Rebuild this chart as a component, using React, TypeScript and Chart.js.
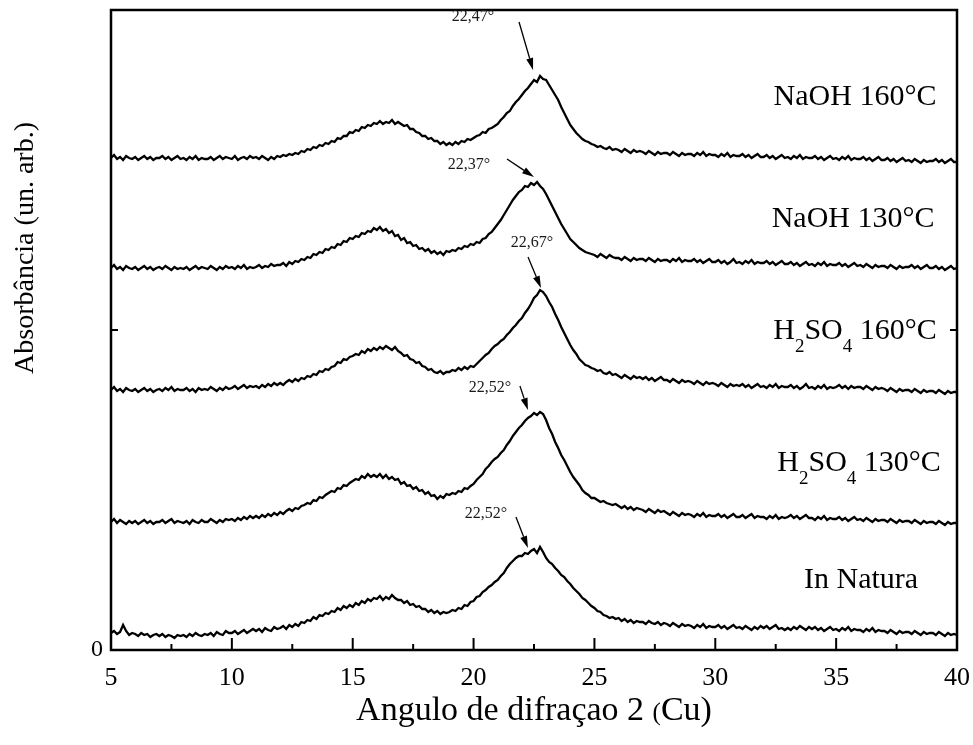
import React, { useEffect, useRef } from 'react';
import { Chart, registerables } from 'chart.js';

Chart.register(...registerables);

const FONT = '"Liberation Serif", "Times New Roman", serif';

// Measurement grid (2θ, degrees)
const SCAN_START = 5;
const SCAN_STEP = 0.125;
const SCAN_POINTS = 281;
const ANGLES = Array.from({ length: SCAN_POINTS }, (_, i) => SCAN_START + i * SCAN_STEP);

// Axis
const X_MIN = 5;
const X_MAX = 40;
const X_MAJOR = 5;
const X_MINOR = 2.5;
const X_TICK_LABELS = ['5', '10', '15', '20', '25', '30', '35', '40'];
const Y_MIN = 0;
const Y_MAX = 640;
const Y_STEP = 320;
const Y_TICK_LABELS = ['0'];

// Series names (bottom to top)
const SERIES_NAMES = ['In Natura', 'H2SO4 130°C', 'H2SO4 160°C', 'NaOH 130°C', 'NaOH 160°C'];

// Stacked diffractograms (arbitrary units), one row per degree, 8 samples per degree
const IN_NATURA = [
  17, 19, 16, 18, 25, 19, 15, 17,
  16, 14, 17, 15, 16, 13, 15, 16,
  14, 16, 13, 15, 14, 12, 15, 14,
  15, 13, 16, 14, 17, 15, 14, 16,
  15, 17, 14, 18, 16, 15, 19, 17,
  17, 19, 16, 18, 20, 17, 19, 21,
  19, 21, 18, 22, 20, 19, 23, 21,
  22, 24, 21, 25, 23, 26, 24, 28,
  27, 30, 29, 33, 31, 35, 34, 37,
  36, 39, 38, 42, 40, 44, 42, 45,
  43, 47, 45, 49, 47, 51, 49, 52,
  51, 54, 50, 53, 51, 55, 52, 50,
  50, 47, 49, 45, 46, 43, 44, 41,
  41, 38, 40, 37, 39, 36, 38, 37,
  38, 40, 39, 42, 41, 45, 44, 48,
  49, 53, 54, 58, 60, 63, 65, 68,
  70, 74, 77, 82, 86, 89, 92, 94,
  94, 97, 96, 99, 101, 97, 103, 98,
  92, 88, 86, 82, 79, 75, 73, 69,
  66, 62, 59, 56, 52, 50, 47, 44,
  42, 39, 38, 35, 34, 32, 33, 31,
  32, 29, 31, 28, 30, 27, 29, 28,
  28, 26, 29, 27, 26, 28, 25, 27,
  26, 24, 27, 25, 23, 26, 24, 25,
  24, 22, 25, 23, 26, 22, 24, 23,
  23, 25, 22, 24, 21, 23, 25, 22,
  23, 21, 24, 22, 20, 23, 21, 24,
  22, 24, 21, 23, 25, 21, 22, 20,
  22, 20, 23, 21, 24, 22, 20, 23,
  21, 23, 20, 22, 19, 21, 23, 20,
  21, 19, 22, 20, 23, 19, 21, 20,
  20, 18, 21, 19, 22, 18, 20, 19,
  19, 17, 20, 18, 16, 19, 17, 18,
  18, 16, 19, 17, 15, 18, 16, 17,
  17, 15, 18, 16, 14, 17, 15, 16,
  15,
];

const H2SO4_130 = [
  128, 131, 127, 130, 128, 126, 129, 127,
  129, 126, 128, 130, 127, 129, 126, 128,
  128, 130, 127, 129, 131, 127, 129, 128,
  127, 129, 126, 130, 128, 127, 130, 128,
  128, 131, 129, 127, 130, 128, 131, 130,
  131, 129, 132, 130, 133, 131, 134, 132,
  134, 132, 135, 133, 136, 134, 137, 135,
  138, 136, 139, 141, 139, 142, 141, 144,
  145, 147, 146, 150, 149, 153, 152, 155,
  157, 159, 158, 162, 161, 165, 164, 167,
  169, 171, 170, 174, 172, 176, 173, 175,
  173, 176, 172, 175, 171, 173, 170, 171,
  166, 168, 164, 165, 161, 163, 159, 160,
  156, 158, 154, 155, 151, 154, 152, 156,
  155, 157, 156, 159, 158, 162, 161, 164,
  166, 170, 173, 176, 181, 184, 188, 191,
  193, 197, 200, 205, 209, 214, 218, 222,
  225, 229, 232, 234, 237, 235, 238, 236,
  230, 222, 216, 208, 202, 195, 190, 184,
  178, 173, 169, 165, 160, 157, 155, 152,
  152, 150, 148, 149, 147, 146, 145, 146,
  144, 142, 144, 141, 143, 140, 142, 141,
  140, 138, 141, 139, 137, 140, 138, 139,
  137, 135, 138, 136, 134, 137, 135, 136,
  135, 133, 136, 134, 137, 133, 135, 134,
  134, 136, 133, 135, 132, 134, 136, 133,
  133, 135, 132, 134, 136, 132, 134, 133,
  133, 131, 134, 132, 135, 131, 133, 132,
  133, 135, 132, 134, 131, 133, 135, 132,
  132, 130, 133, 131, 134, 130, 132, 131,
  131, 133, 130, 132, 129, 131, 133, 130,
  131, 129, 132, 130, 128, 131, 129, 130,
  130, 128, 131, 129, 127, 130, 128, 129,
  129, 127, 130, 128, 126, 129, 127, 128,
  128, 126, 129, 127, 125, 128, 126, 127,
  127,
];

const H2SO4_160 = [
  260, 263, 259, 261, 258, 262, 260, 259,
  261, 258, 260, 262, 259, 261, 258, 260,
  261, 259, 262, 260, 263, 259, 261, 260,
  260, 262, 259, 261, 258, 262, 260, 261,
  260, 263, 261, 259, 262, 260, 263, 261,
  262, 264, 261, 263, 265, 262, 264, 263,
  264, 262, 265, 263, 266, 264, 267, 265,
  267, 265, 268, 270, 268, 271, 269, 272,
  271, 274, 273, 276, 275, 279, 278, 281,
  280, 283, 284, 288, 287, 291, 290, 293,
  294, 296, 295, 299, 297, 301, 299, 302,
  300, 303, 301, 304, 302, 300, 303, 299,
  297, 294, 295, 291, 290, 287, 288, 284,
  283, 280, 281, 278, 277, 279, 276, 278,
  278, 280, 279, 282, 280, 283, 281, 284,
  283, 286, 289, 292, 295, 297, 301, 304,
  306, 309, 311, 315, 318, 322, 325, 329,
  332, 337, 341, 346, 352, 355, 360, 358,
  354, 348, 343, 336, 330, 323, 317, 311,
  305, 300, 296, 291, 288, 285, 284, 282,
  281, 279, 280, 277, 276, 278, 275, 276,
  274, 272, 275, 273, 271, 274, 272, 273,
  271, 273, 270, 272, 269, 271, 273, 270,
  270, 268, 271, 269, 267, 270, 268, 269,
  268, 266, 269, 267, 265, 268, 266, 267,
  266, 264, 267, 265, 263, 266, 264, 265,
  264, 266, 263, 265, 262, 264, 266, 263,
  264, 262, 265, 263, 266, 262, 264, 263,
  263, 265, 262, 264, 261, 263, 266, 262,
  263, 261, 264, 262, 265, 261, 263, 262,
  263, 265, 262, 264, 261, 264, 262, 263,
  263, 261, 264, 262, 260, 263, 261, 262,
  261, 259, 262, 260, 258, 261, 259, 260,
  260, 258, 261, 259, 257, 260, 258, 259,
  259, 257, 260, 258, 256, 259, 257, 258,
  258,
];

const NAOH_130 = [
  382, 385, 381, 383, 380, 384, 382, 381,
  383, 380, 382, 384, 381, 383, 380, 382,
  383, 381, 384, 382, 380, 383, 381, 382,
  381, 383, 380, 382, 384, 381, 383, 382,
  381, 384, 382, 380, 383, 381, 384, 382,
  383, 381, 384, 382, 385, 381, 383, 382,
  383, 385, 382, 384, 383, 386, 384, 385,
  385, 387, 384, 388, 386, 389, 388, 391,
  390, 393, 392, 396, 395, 398, 397, 401,
  400, 403, 402, 406, 405, 409, 408, 412,
  411, 414, 413, 417, 416, 419, 418, 422,
  420, 423, 419, 421, 417, 419, 414, 415,
  410, 412, 407, 408, 404, 405, 401, 402,
  399, 401, 397, 399, 396, 398, 395, 399,
  398, 400, 399, 402, 401, 404, 403, 406,
  405, 408, 407, 411, 412, 416, 418, 422,
  426, 430, 435, 440, 445, 450, 454, 458,
  460, 464, 463, 467, 465, 468, 464, 461,
  456, 450, 444, 438, 432, 426, 421, 416,
  411, 408, 405, 402, 400, 398, 397, 396,
  395, 393, 396, 394, 392, 395, 393, 392,
  392, 390, 393, 391, 389, 392, 390, 391,
  391, 389, 392, 390, 388, 391, 389, 390,
  390, 388, 391, 389, 392, 388, 390, 389,
  389, 391, 388, 390, 387, 389, 391, 388,
  388, 390, 387, 389, 386, 388, 391, 387,
  388, 386, 389, 387, 390, 386, 388, 387,
  387, 389, 386, 388, 385, 387, 389, 386,
  386, 388, 385, 387, 384, 386, 388, 385,
  386, 384, 387, 385, 388, 384, 386, 385,
  385, 387, 384, 386, 383, 385, 387, 384,
  385, 383, 386, 384, 382, 385, 383, 384,
  384, 382, 385, 383, 381, 384, 382, 383,
  383, 385, 382, 384, 381, 383, 385, 382,
  382, 384, 381, 383, 380, 382, 384, 381,
  382,
];

const NAOH_160 = [
  492, 495, 491, 493, 490, 494, 492, 491,
  493, 490, 492, 494, 491, 493, 490, 492,
  492, 494, 491, 493, 490, 492, 494, 491,
  492, 490, 493, 491, 494, 490, 492, 491,
  491, 493, 490, 492, 494, 491, 493, 492,
  491, 494, 490, 492, 493, 491, 494, 492,
  493, 491, 494, 492, 490, 493, 491, 494,
  493, 495, 494, 496, 495, 497, 496, 499,
  498, 501, 500, 503, 502, 505, 504, 507,
  506, 509, 508, 512, 511, 514, 514, 518,
  517, 520, 519, 523, 522, 525, 524, 527,
  526, 529, 526, 528, 527, 530, 526, 528,
  526, 524, 525, 521, 521, 518, 517, 514,
  514, 511, 512, 509, 509, 506, 508, 505,
  507, 505, 508, 506, 509, 508, 511, 510,
  512, 514, 515, 518, 517, 521, 522, 524,
  526, 530, 533, 537, 539, 544, 548, 551,
  555, 559, 562, 566, 570, 568, 574, 571,
  570, 565, 560, 555, 550, 543, 537, 531,
  525, 521, 517, 514, 511, 509, 508, 506,
  505, 503, 504, 502, 501, 503, 500, 501,
  500, 498, 501, 499, 497, 500, 498, 499,
  498, 496, 499, 497, 495, 498, 496, 497,
  497, 495, 498, 496, 494, 497, 495, 496,
  496, 494, 497, 495, 498, 494, 496, 495,
  495, 493, 496, 494, 497, 493, 495, 494,
  494, 496, 493, 495, 492, 494, 496, 493,
  493, 495, 492, 494, 491, 493, 495, 492,
  493, 491, 494, 492, 495, 491, 493, 492,
  492, 494, 491, 493, 490, 492, 494, 491,
  492, 490, 493, 491, 494, 490, 492, 491,
  491, 493, 490, 492, 489, 491, 493, 490,
  490, 492, 489, 491, 488, 490, 492, 489,
  490, 488, 491, 489, 487, 490, 488, 489,
  489, 491, 488, 490, 487, 489, 491, 488,
  488,
];

// Peak annotations (bottom to top)
const PEAK_LABELS = ['22,52°', '22,52°', '22,67°', '22,37°', '22,47°'];
const ARROW_TIP_ANGLE = [22.25, 22.25, 22.79, 22.5, 22.46];
const ARROW_TIP_VALUE = [102, 240, 362, 473, 580];

// Placement styles (pixels relative to arrow tip)
const PEAK_TEXT_OFFSET = [[-42, -34], [-38, -22], [-9, -45], [-65, -12], [-60, -53]];
const ARROW_START_OFFSET = [[-12, -31], [-8, -24], [-13, -31], [-27, -18], [-14, -48]];

// Series label anchors (centre angle, cap-centre value)
const LABEL_ANGLE = [36.03, 35.95, 35.78, 35.70, 35.78];
const LABEL_VALUE = [72, 189, 321, 433, 555];

const SERIES = [
  { name: SERIES_NAMES[0], values: IN_NATURA },
  { name: SERIES_NAMES[1], values: H2SO4_130 },
  { name: SERIES_NAMES[2], values: H2SO4_160 },
  { name: SERIES_NAMES[3], values: NAOH_130 },
  { name: SERIES_NAMES[4], values: NAOH_160 },
];

function chemSegments(text: string) {
  const first = text.split(' ')[0];
  const rest = text.slice(first.length);
  const segs: { t: string; sub: boolean }[] = [];
  const isFormula = /[A-Za-z]/.test(first) && /\d/.test(first);
  if (isFormula) {
    for (const ch of first) {
      const sub = /\d/.test(ch);
      const last = segs[segs.length - 1];
      if (last && last.sub === sub) last.t += ch;
      else segs.push({ t: ch, sub });
    }
  } else {
    segs.push({ t: first, sub: false });
  }
  if (rest) segs.push({ t: rest, sub: false });
  return segs;
}

const decor = {
  id: 'decor',
  afterDraw(chart: any) {
    const { ctx, chartArea: a } = chart;
    const xs = chart.scales.x;
    const ys = chart.scales.y;
    ctx.save();

    // frame
    ctx.strokeStyle = '#000';
    ctx.lineWidth = 2.5;
    ctx.strokeRect(a.left, a.top, a.right - a.left, a.bottom - a.top);

    // inward x ticks
    ctx.lineWidth = 2;
    for (let v = X_MIN; v <= X_MAX + 1e-9; v += X_MINOR) {
      const px = xs.getPixelForValue(v);
      const r = (v - X_MIN) / X_MAJOR;
      const major = Math.abs(r - Math.round(r)) < 1e-6;
      const len = major ? 12 : 6;
      ctx.beginPath();
      ctx.moveTo(px, a.bottom);
      ctx.lineTo(px, a.bottom - len);
      ctx.stroke();
    }
    // inward y ticks (left & right)
    for (let v = Y_MIN + Y_STEP; v < Y_MAX; v += Y_STEP) {
      const py = ys.getPixelForValue(v);
      ctx.beginPath();
      ctx.moveTo(a.left, py);
      ctx.lineTo(a.left + 7, py);
      ctx.moveTo(a.right, py);
      ctx.lineTo(a.right - 7, py);
      ctx.stroke();
    }

    // tick labels
    ctx.fillStyle = '#000';
    ctx.font = `26px ${FONT}`;
    ctx.textAlign = 'center';
    ctx.textBaseline = 'alphabetic';
    X_TICK_LABELS.forEach((t) => {
      ctx.fillText(t, xs.getPixelForValue(Number(t)), a.bottom + 35);
    });
    ctx.font = `24px ${FONT}`;
    ctx.textAlign = 'right';
    Y_TICK_LABELS.forEach((t) => {
      ctx.fillText(t, a.left - 8, ys.getPixelForValue(Number(t)) + 6);
    });

    // series labels
    ctx.textAlign = 'left';
    SERIES.forEach((s, i) => {
      const segs = chemSegments(s.name);
      const mainFont = `30px ${FONT}`;
      const subFont = `19px ${FONT}`;
      let w = 0;
      segs.forEach((g) => {
        ctx.font = g.sub ? subFont : mainFont;
        w += ctx.measureText(g.t).width;
      });
      const cx = xs.getPixelForValue(LABEL_ANGLE[i]);
      const base = ys.getPixelForValue(LABEL_VALUE[i]) + 10;
      let x = cx - w / 2;
      segs.forEach((g) => {
        ctx.font = g.sub ? subFont : mainFont;
        ctx.fillText(g.t, x, g.sub ? base + 13 : base);
        x += ctx.measureText(g.t).width;
      });
    });

    // peak annotations
    PEAK_LABELS.forEach((lab, i) => {
      const tx = xs.getPixelForValue(ARROW_TIP_ANGLE[i]);
      const ty = ys.getPixelForValue(ARROW_TIP_VALUE[i]);
      ctx.font = `16px ${FONT}`;
      ctx.textAlign = 'center';
      ctx.textBaseline = 'middle';
      ctx.fillStyle = '#1a1a1a';
      ctx.fillText(lab, tx + PEAK_TEXT_OFFSET[i][0], ty + PEAK_TEXT_OFFSET[i][1]);
      const sx = tx + ARROW_START_OFFSET[i][0];
      const sy = ty + ARROW_START_OFFSET[i][1];
      const ang = Math.atan2(ty - sy, tx - sx);
      const hl = 12;
      const hw = 3.5;
      const bx = tx - hl * Math.cos(ang);
      const by = ty - hl * Math.sin(ang);
      ctx.strokeStyle = '#000';
      ctx.lineWidth = 1.3;
      ctx.beginPath();
      ctx.moveTo(sx, sy);
      ctx.lineTo(bx, by);
      ctx.stroke();
      ctx.fillStyle = '#000';
      ctx.beginPath();
      ctx.moveTo(tx, ty);
      ctx.lineTo(bx + hw * Math.sin(ang), by - hw * Math.cos(ang));
      ctx.lineTo(bx - hw * Math.sin(ang), by + hw * Math.cos(ang));
      ctx.closePath();
      ctx.fill();
    });

    // y title
    ctx.fillStyle = '#000';
    ctx.save();
    ctx.translate(26, 248);
    ctx.rotate(-Math.PI / 2);
    ctx.font = `28px ${FONT}`;
    ctx.textAlign = 'center';
    ctx.textBaseline = 'middle';
    ctx.fillText('Absorbância (un. arb.)', 0, 0);
    ctx.restore();

    // x title
    const parts = [
      { t: 'Angulo de difraçao 2 ', size: 34 },
      { t: '(', size: 25 },
      { t: 'Cu)', size: 34 },
    ];
    ctx.textAlign = 'left';
    ctx.textBaseline = 'alphabetic';
    let tw = 0;
    parts.forEach((p) => {
      ctx.font = `${p.size}px ${FONT}`;
      tw += ctx.measureText(p.t).width;
    });
    let px = (a.left + a.right) / 2 - tw / 2;
    parts.forEach((p) => {
      ctx.font = `${p.size}px ${FONT}`;
      ctx.fillText(p.t, px, 720);
      px += ctx.measureText(p.t).width;
    });

    ctx.restore();
  },
};

export default function App() {
  const ref = useRef<HTMLCanvasElement>(null);
  useEffect(() => {
    const canvas = ref.current;
    if (!canvas) return;
    const chart = new Chart(canvas, {
      type: 'line',
      data: {
        datasets: SERIES.map((s) => ({
          label: s.name,
          data: s.values.map((v, i) => ({ x: ANGLES[i], y: v })),
          borderColor: '#000',
          backgroundColor: '#000',
          borderWidth: 2.3,
          pointRadius: 0,
          tension: 0,
          fill: false,
        })),
      },
      options: {
        animation: false,
        responsive: false,
        events: [],
        layout: { padding: { left: 0, right: 16, top: 10, bottom: 0 } },
        plugins: { legend: { display: false }, tooltip: { enabled: false } },
        scales: {
          x: {
            type: 'linear',
            min: X_MIN,
            max: X_MAX,
            grid: { display: false, drawTicks: false },
            border: { display: false },
            ticks: { display: false },
            afterFit: (s: any) => { s.height = 95; },
          },
          y: {
            min: Y_MIN,
            max: Y_MAX,
            grid: { display: false, drawTicks: false },
            border: { display: false },
            ticks: { display: false },
            afterFit: (s: any) => { s.width = 111; },
          },
        },
      },
      plugins: [decor],
    });
    return () => chart.destroy();
  }, []);
  return (
    <div style={{ position: 'fixed', left: 0, top: 0, width: 973, height: 745, background: '#fff' }}>
      <canvas ref={ref} width={973} height={745} />
    </div>
  );
}
